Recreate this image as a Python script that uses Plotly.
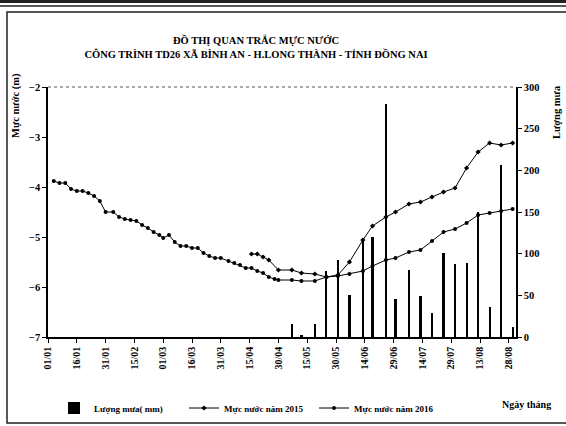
import pandas as pd
import plotly.graph_objects as go

# ---------------- data ----------------
tick_labels = ["01/01", "16/01", "31/01", "15/02", "01/03", "16/03", "31/03", "15/04",
               "30/04", "15/05", "30/05", "14/06", "29/06", "14/07", "29/07", "13/08", "28/08"]

ngay_2016 = ["04/01", "07/01", "10/01", "13/01", "16/01", "19/01", "22/01", "25/01", "28/01", "31/01",
             "04/02", "07/02", "10/02", "13/02", "16/02", "19/02", "22/02", "25/02", "28/02",
             "01/03", "04/03", "07/03", "10/03", "13/03", "16/03", "19/03", "22/03", "25/03", "28/03", "31/03",
             "04/04", "07/04", "10/04", "13/04", "16/04", "19/04", "22/04", "25/04", "28/04", "30/04",
             "07/05", "12/05", "19/05", "25/05", "31/05",
             "06/06", "13/06", "18/06", "25/06", "30/06",
             "07/07", "13/07", "19/07", "25/07", "31/07",
             "06/08", "12/08", "18/08", "24/08", "30/08"]
muc_nuoc_2016 = [-3.88, -3.92, -3.92, -4.04, -4.08, -4.08, -4.12, -4.18, -4.28, -4.50,
                 -4.50, -4.60, -4.64, -4.66, -4.68, -4.76, -4.82, -4.90, -4.96,
                 -5.02, -4.96, -5.10, -5.18, -5.18, -5.22, -5.22, -5.32, -5.38, -5.42, -5.42,
                 -5.48, -5.52, -5.56, -5.62, -5.62, -5.68, -5.72, -5.80, -5.84, -5.86,
                 -5.86, -5.88, -5.88, -5.80, -5.78,
                 -5.74, -5.68, -5.58, -5.46, -5.42,
                 -5.30, -5.26, -5.08, -4.90, -4.84,
                 -4.72, -4.56, -4.52, -4.48, -4.44]

ngay_2015 = ["16/04", "19/04", "22/04", "25/04", "30/04",
             "07/05", "12/05", "19/05", "25/05", "31/05",
             "06/06", "13/06", "18/06", "25/06", "30/06",
             "07/07", "13/07", "19/07", "25/07", "31/07",
             "06/08", "12/08", "18/08", "24/08", "30/08"]
muc_nuoc_2015 = [-5.34, -5.34, -5.40, -5.46, -5.66,
                 -5.66, -5.72, -5.74, -5.80, -5.76,
                 -5.50, -5.06, -4.78, -4.60, -4.50,
                 -4.34, -4.30, -4.20, -4.10, -4.02,
                 -3.62, -3.30, -3.12, -3.16, -3.12]

ngay_mua = ["07/05", "12/05", "19/05", "25/05", "31/05",
            "06/06", "13/06", "18/06", "25/06", "30/06",
            "07/07", "13/07", "19/07", "25/07", "31/07",
            "06/08", "12/08", "18/08", "24/08", "30/08"]
luong_mua = [16, 2, 16, 79, 93,
             50, 118, 120, 280, 46,
             81, 49, 29, 101, 88,
             89, 150, 36, 206, 12]


def to_dates(lst):
    return pd.to_datetime([d + "/2016" for d in lst], format="%d/%m/%Y")


FONT = "Liberation Serif, Times New Roman, serif"
DAY_MS = 86400000

fig = go.Figure()
fig.add_trace(go.Bar(
    x=to_dates(ngay_mua), y=luong_mua, yaxis="y2", name="Lượng mưa( mm)",
    width=1.1 * DAY_MS, marker=dict(color="black", line=dict(width=0)),
))
fig.add_trace(go.Scatter(
    x=to_dates(ngay_2015), y=muc_nuoc_2015, name="Mực nước năm 2015",
    mode="lines+markers", line=dict(color="black", width=1),
    marker=dict(color="black", size=4, symbol="diamond"),
))
fig.add_trace(go.Scatter(
    x=to_dates(ngay_2016), y=muc_nuoc_2016, name="Mực nước năm 2016",
    mode="lines+markers", line=dict(color="black", width=1),
    marker=dict(color="black", size=4, symbol="circle"),
))

tick_dates = to_dates(tick_labels)

# pixel helpers for decoration placement (plot area 48..516 x 87..337)
def px(x):
    return (x - 48) / 468.0


def py(y):
    return (337 - y) / 250.0


fig.update_layout(
    template="none",
    width=566, height=426,
    margin=dict(l=48, r=50, t=87, b=89, autoexpand=False),
    paper_bgcolor="white", plot_bgcolor="white",
    font=dict(family=FONT, size=10, color="black", weight="bold"),
    title=dict(
        text="ĐỒ THỊ QUAN TRẮC MỰC NƯỚC<br>CÔNG TRÌNH TD26 XÃ BÌNH AN - H.LONG THÀNH - TỈNH ĐỒNG NAI",
        x=256 / 566, xanchor="center", xref="container",
        y=1 - 44 / 426, yanchor="middle", yref="container",
        font=dict(family=FONT, size=10.5, color="black", weight="bold"),
    ),
    xaxis=dict(
        type="date", range=["2016-01-01", "2016-08-31 18:00"],
        tickvals=tick_dates, ticktext=tick_labels, tickangle=-90,
        showgrid=False, zeroline=False, showline=True, linecolor="black", linewidth=1.5,
        ticks="outside", ticklen=4, tickcolor="black", tickwidth=1,
        tickfont=dict(family=FONT, size=10, weight="bold"), automargin=False,
    ),
    yaxis=dict(
        range=[-7, -2], dtick=1, tick0=-7,
        showgrid=False, zeroline=False, showline=True, linecolor="black", linewidth=1.5,
        ticks="outside", ticklen=4, tickcolor="black",
        tickfont=dict(family=FONT, size=10.5, weight="bold"), automargin=False,
    ),
    yaxis2=dict(
        range=[0, 300], dtick=50, overlaying="y", side="right",
        showgrid=False, zeroline=False, showline=True, linecolor="black", linewidth=1.5,
        ticks="outside", ticklen=4, tickcolor="black",
        tickfont=dict(family=FONT, size=10.5, weight="bold"), automargin=False,
    ),
    showlegend=True,
    legend=dict(
        orientation="h", x=px(54), xanchor="left", y=py(408), yanchor="middle",
        entrywidth=85, entrywidthmode="pixels", bgcolor="rgba(0,0,0,0)",
        font=dict(family=FONT, size=9, weight="bold"), traceorder="normal",
    ),
    bargap=0,
    annotations=[
        dict(text="Mực nước (m)", xref="paper", yref="paper", x=px(16), y=py(106),
             textangle=-90, showarrow=False, xanchor="center", yanchor="middle",
             font=dict(family=FONT, size=10.5, weight="bold")),
        dict(text="Lượng mưa", xref="paper", yref="paper", x=px(556), y=py(112),
             textangle=-90, showarrow=False, xanchor="center", yanchor="middle",
             font=dict(family=FONT, size=10.5, weight="bold")),
        dict(text="Ngày tháng", xref="paper", yref="paper", x=px(526), y=py(404),
             showarrow=False, xanchor="center", yanchor="middle",
             font=dict(family=FONT, size=10, weight="bold")),
    ],
    shapes=[
        # top plot border (faint, dotted)
        dict(type="line", xref="paper", yref="paper", x0=0, x1=1, y0=1, y1=1,
             line=dict(color="#555", width=1, dash="dot")),
        # page frame and header rules
        dict(type="line", xref="paper", yref="paper", x0=px(-5), x1=px(600), y0=py(1.5), y1=py(1.5),
             line=dict(color="#222", width=3)),
        dict(type="line", xref="paper", yref="paper", x0=px(-5), x1=px(600), y0=py(6), y1=py(6),
             line=dict(color="#222", width=1.5)),
        dict(type="rect", xref="paper", yref="paper", x0=px(7), x1=px(600), y0=py(423), y1=py(12),
             line=dict(color="#222", width=1.5)),
    ],
)

fig.write_html("out.html", config={"displayModeBar": False},
               post_script="document.body.style.margin='0';")
